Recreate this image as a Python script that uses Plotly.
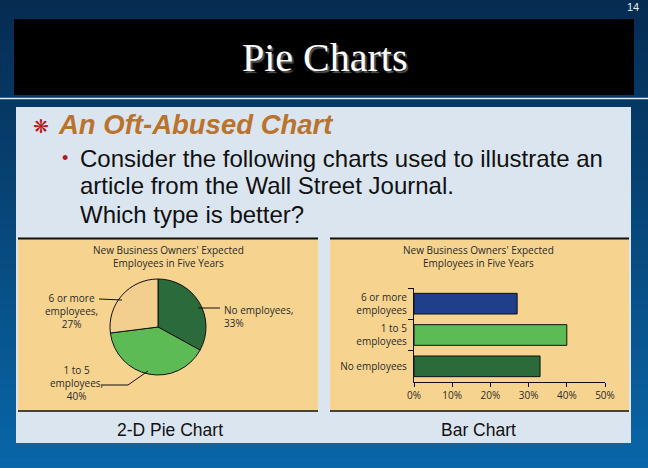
import plotly.graph_objects as go

W, H = 648, 468

# ---- data ----
pie_labels = ["No employees", "1 to 5 employees", "6 or more employees"]
pie_values = [33, 40, 27]
bar_categories = ["No employees", "1 to 5<br>employees", "6 or more<br>employees"]
bar_values = [33, 40, 27]
x_ticks = [0, 10, 20, 30, 40, 50]
x_tick_labels = ["0%", "10%", "20%", "30%", "40%", "50%"]
chart_title = "New Business Owners' Expected<br>Employees in Five Years"

# colours
pie_colors = ["#2b6a3a", "#5dbb55", "#f2cf8e"]
bar_colors = ["#2b6a3a", "#5dbb55", "#1f3f8a"]
TAN = "#f6d48f"
PANEL = "#dbe5f0"


def px(x):
    return x / W


def py(y):
    return 1 - y / H


fig = go.Figure()

# ---- pie ----
fig.add_trace(go.Pie(
    labels=pie_labels, values=pie_values, sort=False, direction="clockwise",
    rotation=0, textinfo="none", hoverinfo="label+percent", automargin=False,
    marker=dict(colors=pie_colors, line=dict(color="#111111", width=1)),
    domain=dict(x=[px(110), px(206)], y=[py(375), py(279)]),
    showlegend=False,
))

# ---- bar ----
fig.add_trace(go.Bar(
    x=bar_values, y=bar_categories, orientation="h", width=0.66,
    marker=dict(color=bar_colors, line=dict(color="#111111", width=1)),
    showlegend=False,
))

CF = "Open Sans, Liberation Sans"
fig.update_layout(
    width=W, height=H, autosize=False,
    margin=dict(l=0, r=0, t=0, b=0, pad=0, autoexpand=False),
    paper_bgcolor="#0a4a80", plot_bgcolor="rgba(0,0,0,0)",
    xaxis=dict(domain=[px(414), px(605)], range=[0, 50], tickvals=x_ticks,
               ticktext=x_tick_labels, showgrid=False, zeroline=False, automargin=False,
               showline=True, linecolor="#111111", linewidth=1.2,
               ticks="outside", ticklen=4, tickcolor="#111111",
               tickfont=dict(family=CF, size=10, color="#2a2a2a")),
    yaxis=dict(domain=[py(382), py(288)], range=[-0.5, 2.5], type="category",
               showgrid=False, zeroline=False, automargin=False, showline=True,
               linecolor="#111111",
               linewidth=1.2, ticks="outside", ticklen=5, tickcolor="#111111",
               tickson="boundaries", ticklabelstandoff=4,
               tickfont=dict(family=CF, size=10, color="#2a2a2a")),
    font=dict(family="Liberation Sans"),
)

shapes = []
# gradient background bands
n = 47
c0 = (6, 44, 82)
c1 = (10, 102, 168)
for i in range(n):
    t = i / (n - 1)
    c = tuple(int(c0[k] + (c1[k] - c0[k]) * t) for k in range(3))
    y0 = i * H / n
    y1 = (i + 1) * H / n + 1
    shapes.append(dict(type="rect", xref="paper", yref="paper", layer="below",
                       x0=0, x1=1, y0=py(y1), y1=py(y0), line=dict(width=0),
                       fillcolor="rgb(%d,%d,%d)" % c))
# title box
shapes.append(dict(type="rect", xref="paper", yref="paper", layer="below",
                   x0=px(14), x1=px(634), y0=py(95), y1=py(19),
                   line=dict(width=0), fillcolor="#000000"))
# white rule
shapes.append(dict(type="line", xref="paper", yref="paper", layer="below",
                   x0=0, x1=1, y0=py(98.5), y1=py(98.5),
                   line=dict(color="#e8eef5", width=1.5)))
# light panel
shapes.append(dict(type="rect", xref="paper", yref="paper", layer="below",
                   x0=px(16), x1=px(631), y0=py(443), y1=py(107),
                   line=dict(width=0), fillcolor=PANEL))
# chart image backgrounds
for (a, b) in [(18, 318), (330, 629)]:
    shapes.append(dict(type="rect", xref="paper", yref="paper", layer="below",
                       x0=px(a), x1=px(b), y0=py(411), y1=py(238),
                       line=dict(width=0), fillcolor=TAN))
    shapes.append(dict(type="line", xref="paper", yref="paper", layer="below",
                       x0=px(a), x1=px(b), y0=py(238.5), y1=py(238.5),
                       line=dict(color="#111111", width=2)))
    shapes.append(dict(type="line", xref="paper", yref="paper", layer="below",
                       x0=px(a), x1=px(b), y0=py(411), y1=py(411),
                       line=dict(color="#111111", width=1.5)))
# pie leader lines
for (xa, ya, xb, yb) in [(99, 299, 122, 300), (198, 308, 220, 308),
                         (101, 385, 128, 385), (128, 385, 148, 371)]:
    shapes.append(dict(type="line", xref="paper", yref="paper",
                       x0=px(xa), x1=px(xb), y0=py(ya), y1=py(yb),
                       line=dict(color="#111111", width=1)))
fig.update_layout(shapes=shapes)

ann = []


def text(x, y, s, size, color, family="Liberation Sans", xanchor="center", align="center", shadow=None):
    f = dict(size=size, color=color, family=family)
    if shadow:
        f["shadow"] = shadow
    ann.append(dict(x=px(x), y=py(y), xref="paper", yref="paper", text=s,
                    showarrow=False, xanchor=xanchor, yanchor="middle", align=align,
                    font=f))


# page number
text(633, 7, "14", 11, "#e8eef5")
# title with shadow
text(325, 57, "Pie Charts", 40, "#ffffff", family="Liberation Serif", shadow="2px 2px 1px #555555")
# heading
text(41, 126, "❋", 19, "#b01c1c", family="DejaVu Sans")
text(56, 125, "<b><i>An Oft-Abused Chart</i></b>", 27.5, "#b8742e", xanchor="left", align="left")
text(65, 158, "•", 18, "#b01c1c")
text(78, 158, "Consider the following charts used to illustrate an", 24, "#111111", xanchor="left", align="left")
text(78, 186, "article from the Wall Street Journal.", 24, "#111111", xanchor="left", align="left")
text(78, 215, "Which type is better?", 24, "#111111", xanchor="left", align="left")
# captions
text(170, 430, "2-D Pie Chart", 17.5, "#111111")
text(479, 430, "Bar Chart", 17.5, "#111111")
# chart titles
for cx in (168, 479):
    ann.append(dict(x=px(cx), y=py(256.5), xref="paper", yref="paper", text=chart_title,
                    showarrow=False, xanchor="center", yanchor="middle", align="center",
                    font=dict(size=10, color="#2a2a2a", family=CF)))
# pie labels
text(71, 311, "6 or more<br>employees,<br>27%", 10, "#2a2a2a", family=CF)
text(222, 316, "No employees,<br>33%", 10, "#2a2a2a", family=CF, xanchor="left", align="left")
text(76, 383, "1 to 5<br>employees,<br>40%", 10, "#2a2a2a", family=CF)
fig.update_layout(annotations=ann)

fig.write_html(
    "out.html",
    config={"displayModeBar": False, "responsive": False},
    post_script=("document.documentElement.style.overflow='hidden';"
                 "document.body.style.margin='0';document.body.style.overflow='hidden';"),
)
